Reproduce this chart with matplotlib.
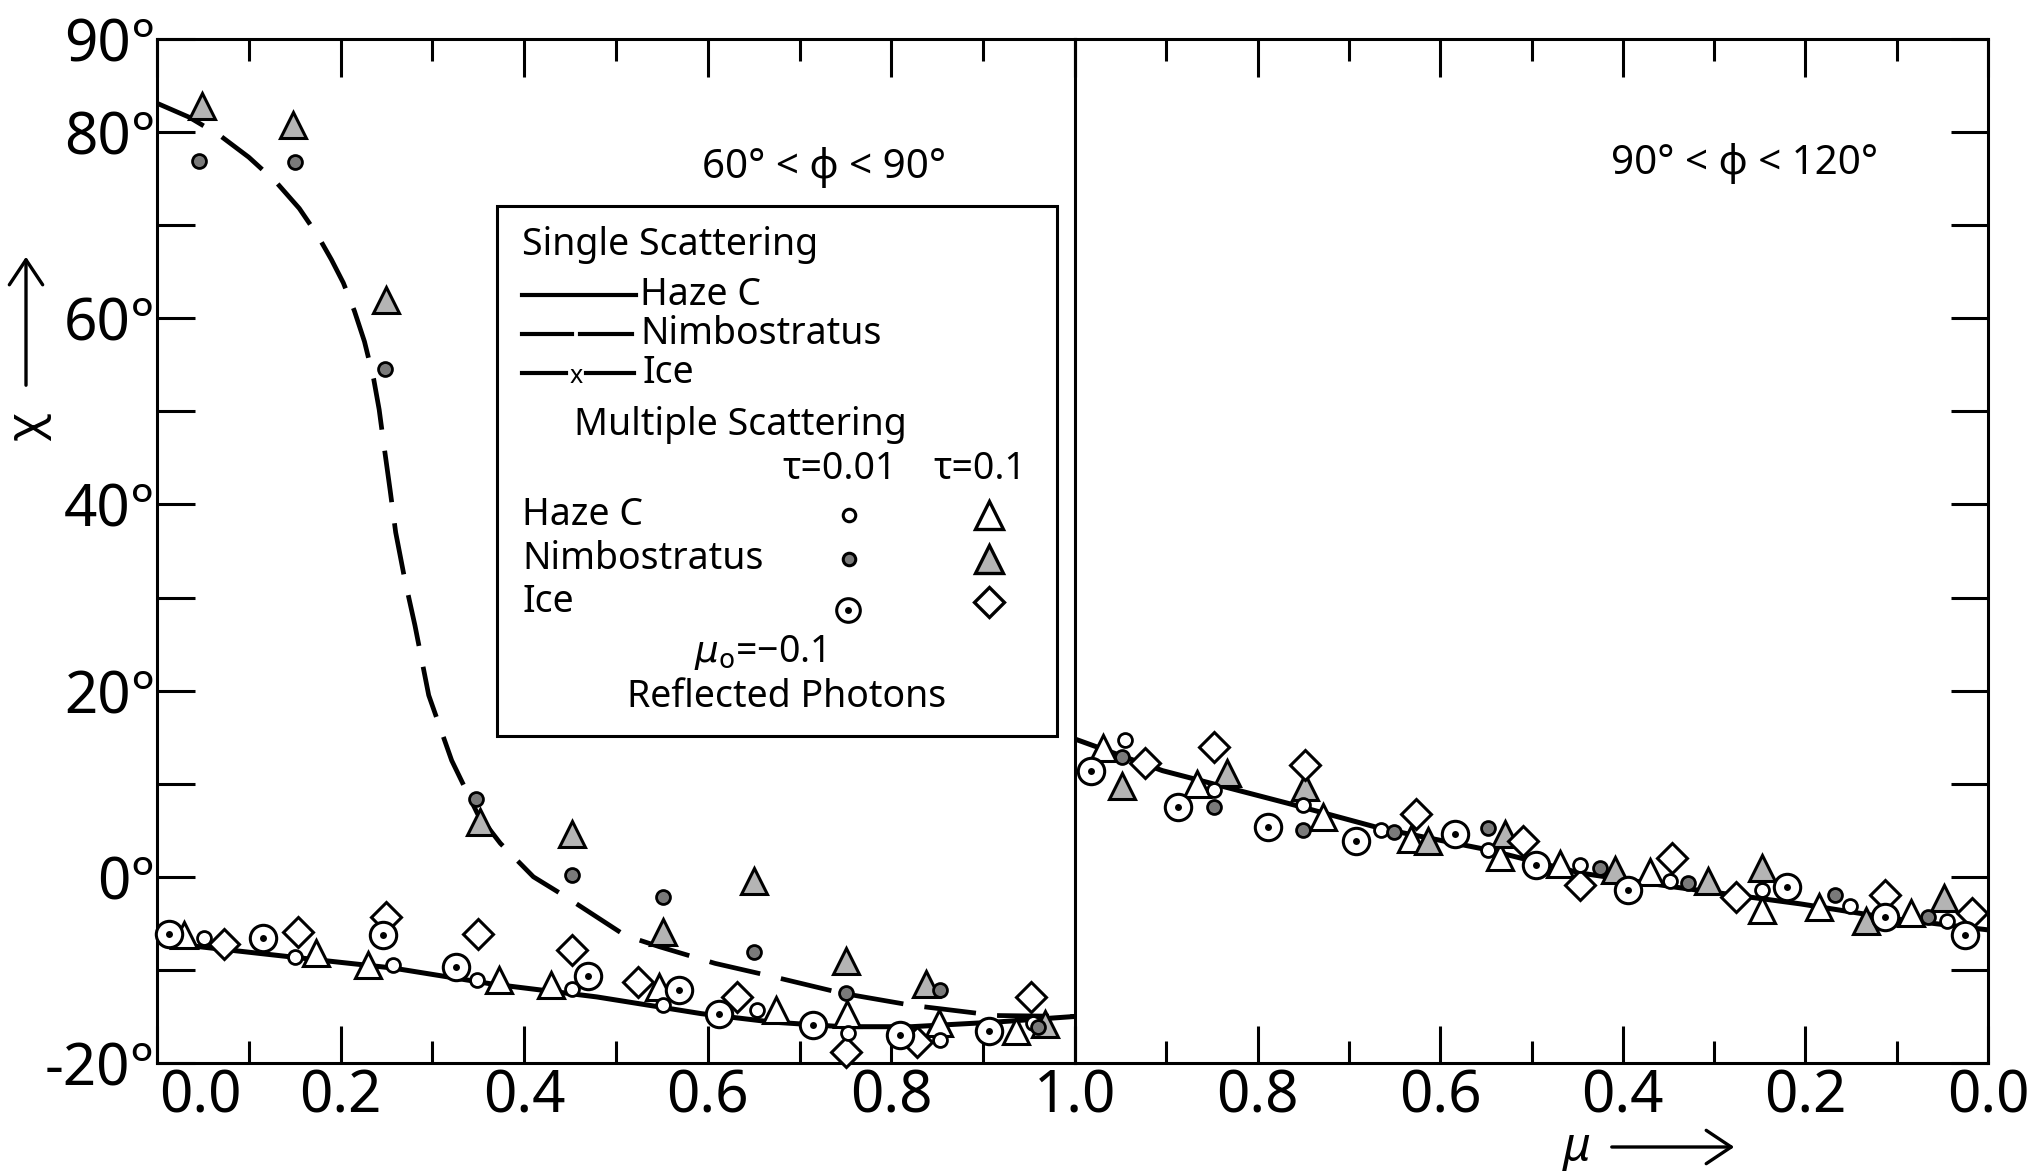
import numpy as np
import matplotlib.pyplot as plt
from matplotlib.lines import Line2D
from matplotlib.patches import Rectangle, FancyArrowPatch
from matplotlib.transforms import ScaledTranslation

plt.rcParams['font.family'] = ['Noto Sans', 'DejaVu Sans']
plt.rcParams['mathtext.fontset'] = 'dejavusans'

# ---- ticks ----
chi_ticks = [-20, -10, 0, 10, 20, 30, 40, 50, 60, 70, 80, 90]
chi_labels = ['-20°', '', '0°', '', '20°', '', '40°', '', '60°', '', '80°', '90°']
mu_ticks_left = [0.0, 0.2, 0.4, 0.6, 0.8, 1.0]
mu_labels_left = ['0.0', '0.2', '0.4', '0.6', '0.8', '1.0']
mu_ticks_right = [1.0, 0.8, 0.6, 0.4, 0.2, 0.0]
mu_labels_right = ['', '0.8', '0.6', '0.4', '0.2', '0.0']
mu_minor = [0.1, 0.3, 0.5, 0.7, 0.9]

# ---- single scattering curves ----
nimbo_mu = [0.0, 0.035, 0.069, 0.1, 0.13, 0.155, 0.175, 0.19, 0.203, 0.215, 0.226,
            0.236, 0.242, 0.247, 0.254, 0.260, 0.270, 0.281, 0.296, 0.321, 0.349,
            0.374, 0.41, 0.443, 0.51, 0.547, 0.608, 0.67, 0.746, 0.822, 0.914, 1.0]
nimbo_chi = [83.1, 81.6, 79.6, 77.3, 74.6, 71.8, 68.9, 66.3, 63.8, 60.8, 57.5,
             53.5, 50.2, 46.5, 41.5, 37.0, 31.9, 27.0, 19.5, 12.5, 6.8,
             3.6, 0.0, -2.0, -6.3, -7.5, -9.3, -10.7, -12.5, -13.8, -14.9, -15.0]

haze_mu_l = [0.0, 0.173, 0.257, 0.364, 0.479, 0.593, 0.67, 0.746, 0.822, 0.914, 1.0]
haze_chi_l = [-7.0, -8.9, -9.8, -11.5, -12.9, -14.7, -15.6, -16.1, -16.1, -15.6, -15.0]

haze_mu_r = [1.0, 0.904, 0.767, 0.665, 0.548, 0.446, 0.343, 0.206, 0.103, 0.0]
haze_chi_r = [14.8, 11.4, 7.9, 5.2, 2.9, 0.4, -1.1, -2.9, -4.5, -5.7]

# ---- multiple scattering, 60 < phi < 90 ----
hz_c_mu_l = [0.051, 0.15, 0.257, 0.349, 0.452, 0.551, 0.654, 0.753, 0.853, 0.954]
hz_c_chi_l = [-6.6, -8.6, -9.5, -11.1, -12.0, -13.8, -14.3, -16.8, -17.5, -15.7]
nb_c_mu_l = [0.046, 0.150, 0.248, 0.348, 0.452, 0.551, 0.65, 0.75, 0.853, 0.96]
nb_c_chi_l = [76.9, 76.8, 54.5, 8.4, 0.2, -2.2, -8.1, -12.5, -12.2, -16.1]
ic_c_mu_l = [0.013, 0.116, 0.246, 0.326, 0.469, 0.569, 0.612, 0.715, 0.809, 0.906]
ic_c_chi_l = [-6.1, -6.6, -6.3, -9.7, -10.7, -12.2, -14.7, -15.9, -17.0, -16.6]
hz_t_mu_l = [0.029, 0.173, 0.23, 0.373, 0.429, 0.547, 0.674, 0.752, 0.852, 0.936]
hz_t_chi_l = [-6.2, -8.2, -9.5, -11.1, -11.6, -11.8, -14.3, -14.7, -15.7, -16.6]
nb_t_mu_l = [0.049, 0.148, 0.249, 0.352, 0.452, 0.551, 0.65, 0.75, 0.838, 0.967]
nb_t_chi_l = [82.8, 80.8, 62.0, 5.9, 4.6, -5.9, -0.5, -9.0, -11.5, -15.8]
ic_d_mu_l = [0.073, 0.154, 0.249, 0.35, 0.452, 0.524, 0.632, 0.75, 0.828, 0.952]
ic_d_chi_l = [-7.2, -5.9, -4.3, -6.1, -7.9, -11.3, -12.9, -18.8, -17.7, -12.9]

# ---- multiple scattering, 90 < phi < 120 ----
hz_c_mu_r = [0.945, 0.848, 0.75, 0.665, 0.548, 0.447, 0.348, 0.247, 0.151, 0.045]
hz_c_chi_r = [14.7, 9.3, 7.7, 5.0, 2.9, 1.3, -0.4, -1.4, -3.1, -4.7]
nb_c_mu_r = [0.949, 0.848, 0.75, 0.651, 0.548, 0.425, 0.329, 0.168, 0.066]
nb_c_chi_r = [12.9, 7.5, 5.0, 4.8, 5.2, 0.9, -0.7, -2.0, -4.3]
ic_c_mu_r = [0.983, 0.887, 0.789, 0.692, 0.584, 0.495, 0.394, 0.22, 0.113, 0.025]
ic_c_chi_r = [11.4, 7.5, 5.4, 3.9, 4.6, 1.3, -1.4, -1.1, -4.3, -6.3]
hz_t_mu_r = [0.969, 0.866, 0.728, 0.632, 0.535, 0.469, 0.37, 0.248, 0.185, 0.084]
hz_t_chi_r = [13.8, 10.0, 6.4, 4.1, 2.1, 1.4, 0.5, -3.6, -3.2, -3.9]
nb_t_mu_r = [0.949, 0.834, 0.748, 0.613, 0.529, 0.408, 0.307, 0.248, 0.134, 0.048]
nb_t_chi_r = [9.8, 11.1, 9.7, 3.9, 4.6, 0.7, -0.4, 0.9, -4.7, -2.3]
ic_d_mu_r = [0.923, 0.848, 0.748, 0.627, 0.509, 0.447, 0.346, 0.276, 0.113, 0.018]
ic_d_chi_r = [12.2, 13.9, 12.0, 6.8, 3.9, -0.9, 2.0, -2.2, -2.0, -3.9]

W, H = 2030, 1171
GRAY = '#b4b4b4'


def F(x, y):
    return x / W, 1 - y / H


fig = plt.figure(figsize=(W / 100, H / 100), dpi=100)
x0, xm, x1, yt, yb = 157, 1075, 1988, 39, 1063
axL = fig.add_axes([x0 / W, 1 - yb / H, (xm - x0) / W, (yb - yt) / H])
axR = fig.add_axes([xm / W, 1 - yb / H, (x1 - xm) / W, (yb - yt) / H])
axR.patch.set_visible(False)

for ax in (axL, axR):
    ax.set_ylim(-20, 90)
    for s in ax.spines.values():
        s.set_linewidth(2.2)
    ax.set_yticks(chi_ticks)
    ax.set_xticks(mu_minor, minor=True)
    ax.tick_params(which='both', direction='in', width=2.2, top=True,
                   labelsize=42, pad=3)
    ax.tick_params(which='major', length=27)
    ax.tick_params(which='minor', length=16)

axL.set_xlim(0, 1)
axL.set_xticks(mu_ticks_left, mu_labels_left)
axL.set_yticklabels(chi_labels)
axL.tick_params(axis='y', right=False, pad=1)

axR.set_xlim(1, 0)
axR.set_xticks(mu_ticks_right, mu_labels_right)
axR.tick_params(axis='y', left=False, right=True, labelleft=False)
axR.spines['left'].set_visible(False)

# push the "0.0" label clear of "-20°"
lab0 = axL.get_xticklabels()[0]
lab0.set_transform(lab0.get_transform() + ScaledTranslation(0.43, 0, fig.dpi_scale_trans))

# curves
axL.plot(nimbo_mu, nimbo_chi, color='k', lw=3.4, dashes=(11, 4.5), zorder=2)
axL.plot(haze_mu_l, haze_chi_l, color='k', lw=3.6, zorder=2)
axR.plot(haze_mu_r, haze_chi_r, color='k', lw=3.6, zorder=2)


def points(ax, hz_c, nb_c, ic_c, hz_t, nb_t, ic_d):
    kw = dict(ls='none', mec='k', clip_on=False, zorder=3)
    ax.plot(*hz_t, marker='^', ms=19, mfc='white', mew=2.2, **kw)
    ax.plot(*nb_t, marker='^', ms=19, mfc=GRAY, mew=2.2, **kw)
    ax.plot(*ic_d, marker='D', ms=15, mfc='white', mew=2.2, **kw)
    ax.plot(*ic_c, marker='o', ms=19, mfc='white', mew=2.2, **kw)
    ax.plot(*ic_c, marker='o', ms=5, mfc='k', mew=0, **kw)
    ax.plot(*hz_c, marker='o', ms=10, mfc='white', mew=2.0, **kw)
    ax.plot(*nb_c, marker='o', ms=10, mfc='#7a7a7a', mew=2.0, **kw)


points(axL, (hz_c_mu_l, hz_c_chi_l), (nb_c_mu_l, nb_c_chi_l), (ic_c_mu_l, ic_c_chi_l),
       (hz_t_mu_l, hz_t_chi_l), (nb_t_mu_l, nb_t_chi_l), (ic_d_mu_l, ic_d_chi_l))
points(axR, (hz_c_mu_r, hz_c_chi_r), (nb_c_mu_r, nb_c_chi_r), (ic_c_mu_r, ic_c_chi_r),
       (hz_t_mu_r, hz_t_chi_r), (nb_t_mu_r, nb_t_chi_r), (ic_d_mu_r, ic_d_chi_r))

# panel labels
fig.text(*F(824, 168), '60° < φ < 90°', fontsize=29, ha='center', va='center')
fig.text(*F(1745, 163), '90° < φ < 120°', fontsize=29, ha='center', va='center')

# legend box
bx0, by0 = F(497, 736)
bx1, by1 = F(1057, 206)
fig.add_artist(Rectangle((bx0, by0), bx1 - bx0, by1 - by0, transform=fig.transFigure,
                         fill=True, fc='white', ec='k', lw=2.2, zorder=5))


def seg(xa, xb, y, **kw):
    (fa, fy), (fb, _) = F(xa, y), F(xb, y)
    fig.add_artist(Line2D([fa, fb], [fy, fy], transform=fig.transFigure,
                          color='k', zorder=6, **kw))


def mark(x, y, **kw):
    fx, fy = F(x, y)
    fig.add_artist(Line2D([fx], [fy], transform=fig.transFigure, ls='none',
                          mec='k', zorder=6, **kw))


def txt(x, y, s, ha='left', size=27, **kw):
    fig.text(*F(x, y), s, fontsize=size, ha=ha, va='center', zorder=6, **kw)


txt(522, 245, 'Single Scattering')
seg(522, 636, 295, lw=3)
txt(640, 295, 'Haze C')
seg(522, 572, 334, lw=3)
seg(580, 632, 334, lw=3)
txt(640, 334, 'Nimbostratus')
seg(522, 566, 373, lw=3)
seg(586, 634, 373, lw=3)
txt(576, 376, 'x', ha='center', size=18)
txt(642, 373, 'Ice')
txt(574, 425, 'Multiple Scattering')
txt(782, 469, 'τ=0.01')
txt(933, 469, 'τ=0.1')
txt(522, 515, 'Haze C')
txt(522, 559, 'Nimbostratus')
txt(522, 602, 'Ice')
mark(849, 515, marker='o', ms=9, mfc='white', mew=2.2)
mark(849, 559, marker='o', ms=9, mfc='#7a7a7a', mew=2.2)
mark(848, 610, marker='o', ms=17, mfc='white', mew=2.2)
mark(848, 610, marker='o', ms=5, mfc='k', mew=0)
mark(989, 515, marker='^', ms=20, mfc='white', mew=2.4)
mark(989, 559, marker='^', ms=20, mfc=GRAY, mew=2.4)
mark(989, 602, marker='D', ms=15, mfc='white', mew=2.4)
txt(760, 653, r'$\mu_{\mathrm{o}}$=−0.1', ha='center')
txt(787, 697, 'Reflected Photons', ha='center')

# axis labels
fig.text(*F(28, 427), 'χ', fontsize=34, rotation=90, ha='center', va='center')
fig.add_artist(FancyArrowPatch(F(26, 388), F(26, 254), transform=fig.transFigure,
                               arrowstyle='->,head_length=0.9,head_width=0.6',
                               mutation_scale=20, lw=2.4, color='k'))
fig.text(*F(1576, 1148), 'μ', fontsize=34, style='italic', ha='center', va='center')
fig.add_artist(FancyArrowPatch(F(1609, 1147), F(1737, 1147), transform=fig.transFigure,
                               arrowstyle='->,head_length=0.9,head_width=0.6',
                               mutation_scale=20, lw=2.4, color='k'))

fig.savefig('out.png', dpi=100)
